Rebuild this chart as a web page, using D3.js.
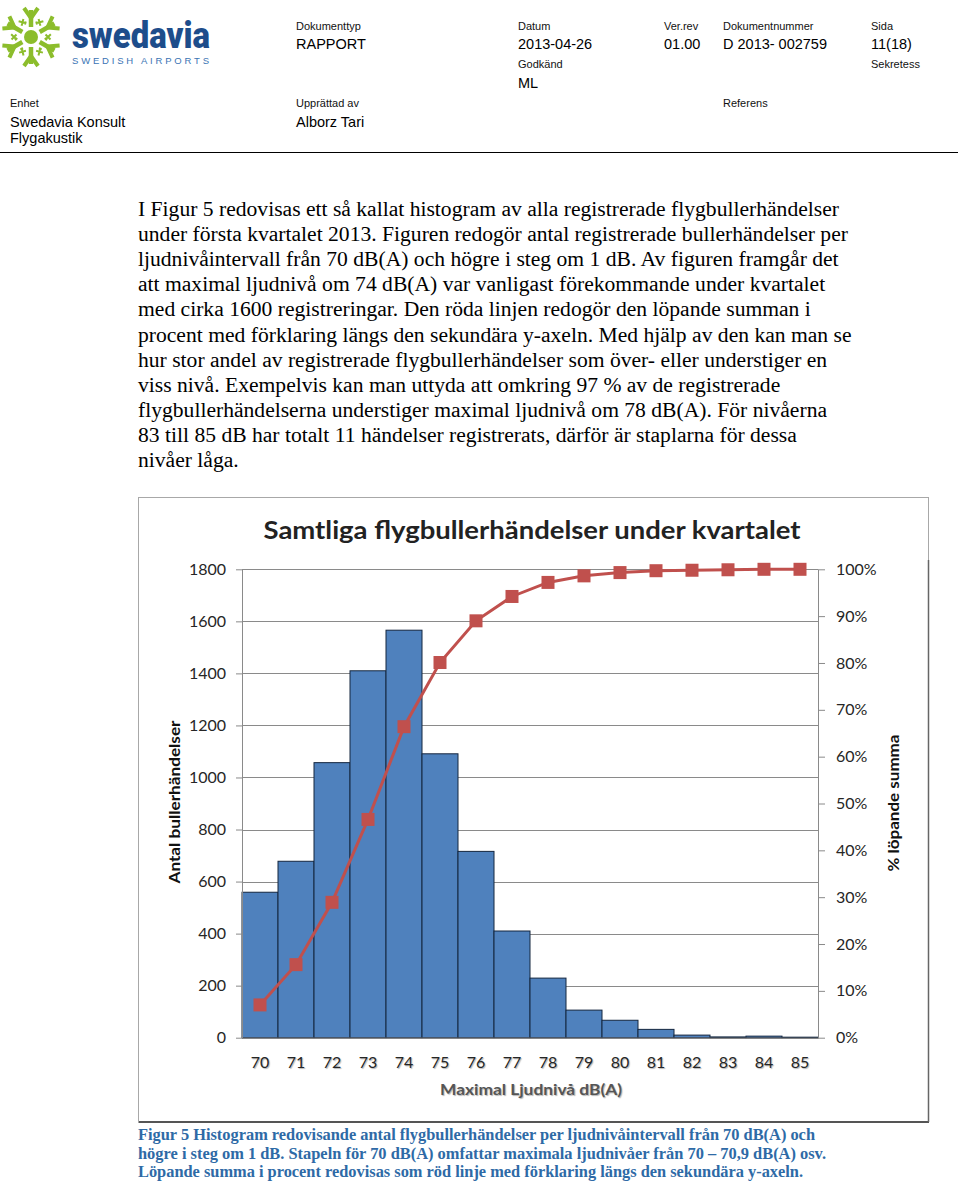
<!DOCTYPE html>
<html>
<meta charset="utf-8">
<style>
    body {
        margin: 0;
        background: #ffffff;
        font-family: "Liberation Sans", Arial, sans-serif;
    }
    .hdr-small { font-size: 11px; fill: #111; }
    .hdr-big { font-size: 14.5px; fill: #000; }
    .body-txt { font-family: "Liberation Serif", "Times New Roman", serif; font-size: 21.6px; fill: #000; }
    .caption { font-family: "Liberation Serif", "Times New Roman", serif; font-size: 16.5px; font-weight: bold; fill: #2e6aa6; }
    .chart-txt { font-family: Lato, "Open Sans", sans-serif; }
    .axis text { font-family: Lato, "Open Sans", sans-serif; font-size: 16px; fill: #262626; }
    .axis path, .axis line { stroke: #8a8a8a; }
    .xlab { text-shadow: 1px 1px 1px #b5b5b5; }
</style>
<script src="https://d3js.org/d3.v7.min.js"></script>
<body>
<svg id="page"></svg>
</body>
<script>

  // histogram data
  const levels = ["70","71","72","73","74","75","76","77","78","79","80","81","82","83","84","85"];
  const counts = [559, 678, 1057, 1410, 1566, 1091, 716, 410, 229, 106, 67, 32, 10, 3, 6, 2];
  const cumPct = [7.0, 15.6, 28.9, 46.6, 66.4, 80.1, 89.0, 94.2, 97.2, 98.6, 99.3, 99.7, 99.8, 99.9, 100, 100];
  const countTicks = [0, 200, 400, 600, 800, 1000, 1200, 1400, 1600, 1800];
  const pctTicks = [0, 10, 20, 30, 40, 50, 60, 70, 80, 90, 100];

  const bodyLines = [
    "I Figur 5 redovisas ett så kallat histogram av alla registrerade flygbullerhändelser",
    "under första kvartalet 2013. Figuren redogör antal registrerade bullerhändelser per",
    "ljudnivåintervall från 70 dB(A) och högre i steg om 1 dB. Av figuren framgår det",
    "att maximal ljudnivå om 74 dB(A) var vanligast förekommande under kvartalet",
    "med cirka 1600 registreringar. Den röda linjen redogör den löpande summan i",
    "procent med förklaring längs den sekundära y-axeln. Med hjälp av den kan man se",
    "hur stor andel av registrerade flygbullerhändelser som över- eller understiger en",
    "viss nivå. Exempelvis kan man uttyda att omkring 97 % av de registrerade",
    "flygbullerhändelserna understiger maximal ljudnivå om 78 dB(A). För nivåerna",
    "83 till 85 dB har totalt 11 händelser registrerats, därför är staplarna för dessa",
    "nivåer låga."
  ];
  const captionLines = [
    "Figur 5 Histogram redovisande antal flygbullerhändelser per ljudnivåintervall från 70 dB(A) och",
    "högre i steg om 1 dB. Stapeln för 70 dB(A) omfattar maximala ljudnivåer från 70 – 70,9 dB(A) osv.",
    "Löpande summa i procent redovisas som röd linje med förklaring längs den sekundära y-axeln."
  ];
  const captionWidths = [677, 688, 665];

  const svg = d3.select('#page').attr('width', 960).attr('height', 1188);

  // ---------- header ----------
  function drawLogo() {
    const g = svg.append('g').attr('transform', 'translate(31,37)');
    const green = '#8cbd2c';
    g.append('circle').attr('r', 7).attr('fill', green);
    [-90, -30, 30, 90, 150, 210].forEach(a => {
      const arm = g.append('g').attr('transform', `rotate(${a})`);
      arm.append('line').attr('x1', 10).attr('x2', 27).attr('y1', 0).attr('y2', 0)
         .attr('stroke', green).attr('stroke-width', 4.5);
      arm.append('path').attr('d', 'M19,0 L29,-7 M19,0 L29,7')
         .attr('stroke', green).attr('stroke-width', 4).attr('fill', 'none');
    });
    // small planes between the arms
    [0, 60, 120, 180, 240, 300].forEach(a => {
      const p = g.append('g').attr('transform', `rotate(${a}) translate(17,0) rotate(${a % 120 ? 45 : -45})`);
      p.append('path').attr('d', 'M-4,0 L4,0 M0,-3.5 L0,3.5 M-3,-1.5 L-3,1.5')
       .attr('stroke', green).attr('stroke-width', 2).attr('fill', 'none');
    });
    svg.append('text').attr('x', 72).attr('y', 48)
       .attr('textLength', 138).attr('lengthAdjust', 'spacingAndGlyphs')
       .style('font-family', 'Roboto, "DejaVu Sans", sans-serif').style('font-weight', 900)
       .style('font-size', '36px').attr('fill', '#1d4d8b').text('swedavia');
    svg.append('text').attr('x', 72).attr('y', 64)
       .attr('textLength', 137).attr('lengthAdjust', 'spacing')
       .style('font-family', '"Liberation Sans", Arial, sans-serif')
       .style('font-size', '9.5px').attr('fill', '#3a74b4').text('SWEDISH AIRPORTS');
  }
  drawLogo();

  const hdrSmall = [
    [296, 30, 'Dokumenttyp'], [518, 30, 'Datum'], [664, 30, 'Ver.rev'], [723, 30, 'Dokumentnummer'], [871, 30, 'Sida'],
    [518, 68, 'Godkänd'], [871, 68, 'Sekretess'],
    [10, 107, 'Enhet'], [296, 107, 'Upprättad av'], [723, 107, 'Referens']
  ];
  const hdrBig = [
    [296, 49, 'RAPPORT'], [518, 49, '2013-04-26'], [664, 49, '01.00'], [723, 49, 'D 2013- 002759'], [871, 49, '11(18)'],
    [518, 88, 'ML'],
    [10, 127, 'Swedavia Konsult'], [10, 143, 'Flygakustik'], [296, 127, 'Alborz Tari']
  ];
  svg.selectAll('.hdr-small').data(hdrSmall).enter().append('text')
     .attr('class', 'hdr-small').attr('x', d => d[0]).attr('y', d => d[1]).text(d => d[2]);
  svg.selectAll('.hdr-big').data(hdrBig).enter().append('text')
     .attr('class', 'hdr-big').attr('x', d => d[0]).attr('y', d => d[1]).text(d => d[2]);
  svg.append('line').attr('x1', 0).attr('x2', 958).attr('y1', 152.5).attr('y2', 152.5)
     .attr('stroke', '#000').attr('stroke-width', 1);

  // ---------- body text ----------
  svg.selectAll('.body-txt').data(bodyLines).enter().append('text')
     .attr('class', 'body-txt').attr('x', 138).attr('y', (d, i) => 216 + i * 25.1).text(d => d);

  // ---------- chart ----------
  svg.append('rect').attr('x', 138.5).attr('y', 497.5).attr('width', 790).attr('height', 625)
     .attr('fill', '#fff').attr('stroke', '#a8a8a8');
  svg.append('line').attr('x1', 139).attr('x2', 929).attr('y1', 1122).attr('y2', 1122)
     .attr('stroke', '#555').attr('stroke-width', 2);
  svg.append('line').attr('x1', 928.5).attr('x2', 928.5).attr('y1', 560).attr('y2', 1122)
     .attr('stroke', '#666').attr('stroke-width', 1.5);

  const plot = {left: 242, right: 818, top: 569.3, bottom: 1037.7};
  const x = d3.scaleBand().domain(levels).range([plot.left, plot.right]).padding(0);
  const yCount = d3.scaleLinear().domain([0, 1800]).range([plot.bottom, plot.top]);
  const yPct = d3.scaleLinear().domain([0, 100]).range([plot.bottom, plot.top]);

  svg.append('text').attr('class', 'chart-txt').attr('x', 532).attr('y', 539)
     .attr('text-anchor', 'middle').attr('textLength', 537).attr('lengthAdjust', 'spacingAndGlyphs')
     .style('font-size', '24px').style('font-weight', 'bold').attr('fill', '#222')
     .text('Samtliga flygbullerhändelser under kvartalet');

  // gridlines
  svg.append('g').selectAll('line').data(countTicks).enter().append('line')
     .attr('x1', plot.left).attr('x2', plot.right)
     .attr('y1', d => Math.round(yCount(d)) + 0.5).attr('y2', d => Math.round(yCount(d)) + 0.5)
     .attr('stroke', '#8a8a8a').attr('stroke-width', 1);

  // bars
  svg.append('g').selectAll('rect').data(levels).enter().append('rect')
     .attr('x', d => x(d)).attr('width', x.bandwidth())
     .attr('y', (d, i) => yCount(counts[i])).attr('height', (d, i) => plot.bottom - yCount(counts[i]))
     .attr('fill', '#4f81bd').attr('stroke', '#14263f').attr('stroke-width', 1);

  // axes
  svg.append('g').attr('class', 'axis').attr('transform', `translate(${plot.left},0)`)
     .call(d3.axisLeft(yCount).tickValues(countTicks).tickSize(6).tickSizeOuter(0).tickPadding(10)
       .tickFormat(d3.format('d')));
  svg.append('g').attr('class', 'axis').attr('transform', `translate(${plot.right},0)`)
     .call(d3.axisRight(yPct).tickValues(pctTicks).tickSize(7).tickSizeOuter(0).tickPadding(11)
       .tickFormat(d => d + '%'));
  const bottomAxis = svg.append('g').attr('class', 'axis').attr('transform', `translate(0,${plot.bottom})`)
     .call(d3.axisBottom(x).tickSize(0).tickPadding(19));
  bottomAxis.select('.domain').attr('stroke', '#8a8a8a');
  bottomAxis.selectAll('text').attr('class', 'xlab').attr('fill', '#4a4a4a');

  // cumulative line
  const cx = d => x(d) + x.bandwidth() / 2;
  const line = d3.line().x((d, i) => cx(levels[i])).y(d => yPct(d));
  svg.append('path').datum(cumPct).attr('d', line)
     .attr('fill', 'none').attr('stroke', '#c0504d').attr('stroke-width', 3);
  svg.append('g').selectAll('rect').data(cumPct).enter().append('rect')
     .attr('x', (d, i) => cx(levels[i]) - 6.5).attr('y', d => yPct(d) - 6.5)
     .attr('width', 13).attr('height', 13).attr('fill', '#c0504d');

  // axis titles
  svg.append('text').attr('class', 'chart-txt')
     .attr('transform', 'translate(180,802) rotate(-90)').attr('text-anchor', 'middle')
     .attr('textLength', 163).attr('lengthAdjust', 'spacingAndGlyphs')
     .style('font-size', '16px').style('font-weight', 'bold').attr('fill', '#111')
     .text('Antal bullerhändelser');
  svg.append('text').attr('class', 'chart-txt')
     .attr('transform', 'translate(899,803) rotate(-90)').attr('text-anchor', 'middle')
     .attr('textLength', 137).attr('lengthAdjust', 'spacingAndGlyphs')
     .style('font-size', '16px').style('font-weight', 'bold').attr('fill', '#111')
     .text('% löpande summa');
  svg.append('text').attr('class', 'chart-txt xlab').attr('x', 531).attr('y', 1095)
     .attr('text-anchor', 'middle').attr('textLength', 182).attr('lengthAdjust', 'spacingAndGlyphs')
     .style('font-size', '16px').style('font-weight', 'bold').attr('fill', '#555')
     .text('Maximal Ljudnivå dB(A)');

  // ---------- caption ----------
  svg.selectAll('.caption').data(captionLines).enter().append('text')
     .attr('class', 'caption').attr('x', 138).attr('y', (d, i) => 1140 + i * 18.5)
     .attr('textLength', (d, i) => captionWidths[i]).attr('lengthAdjust', 'spacingAndGlyphs')
     .text(d => d);

</script>
</html>
